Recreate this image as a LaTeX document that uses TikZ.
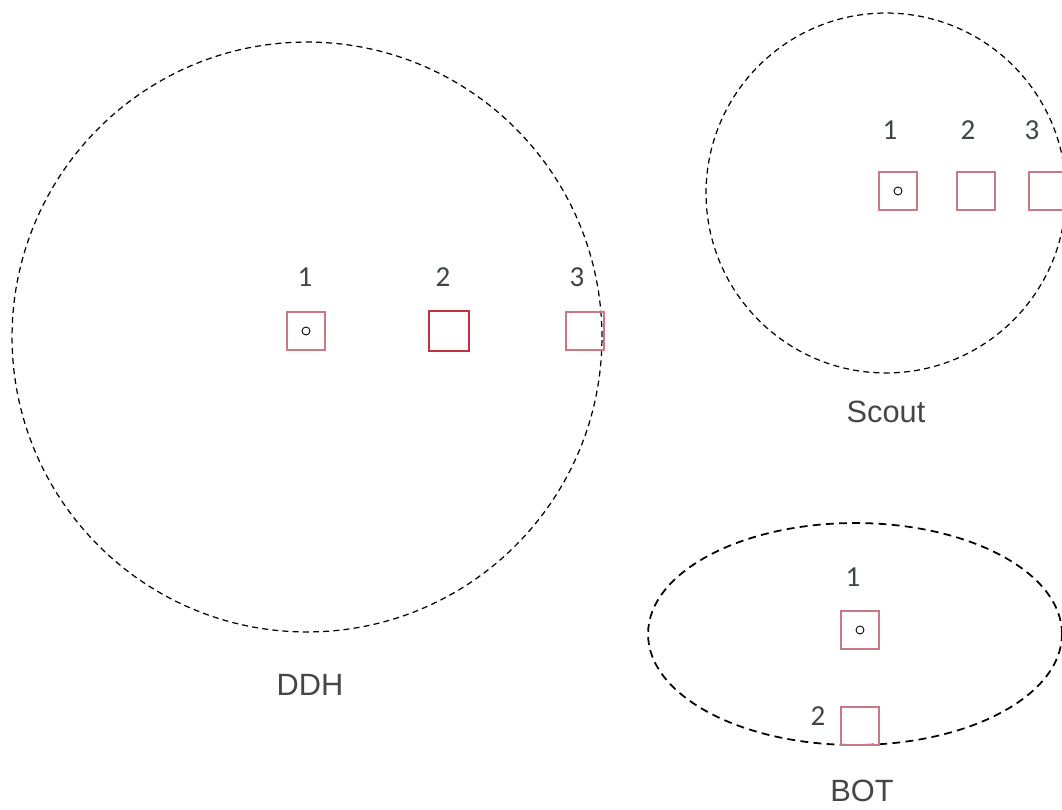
\documentclass[tikz,border=0pt]{standalone}
\usepackage{fontspec}
\setmainfont{Liberation Sans}
\newfontfamily\digitfont{Carlito}
\usetikzlibrary{positioning}

\definecolor{boxred}{RGB}{204,120,130}
\definecolor{darkred}{RGB}{190,50,65}
\definecolor{digitgray}{RGB}{60,70,70}
\definecolor{namegray}{RGB}{70,70,70}

\begin{document}
\begin{tikzpicture}[x=0.02cm, y=-0.02cm]
	\tikzstyle{zone} = [draw=black, line width=0.7pt, dash pattern=on 3.4pt off 2.4pt]
	\tikzstyle{slot} = [draw=boxred, line width=0.6pt, rectangle, minimum size=0.76cm, inner sep=0pt]
	\tikzstyle{slotnum} = [text=digitgray, font=\digitfont\fontsize{16.5}{19}\selectfont]
	\tikzstyle{grouplabel} = [text=namegray, font=\fontsize{17.5}{20}\selectfont]
	\tikzstyle{pip} = [draw=black, line width=0.5pt, circle, minimum size=0.16cm, inner sep=0pt]

	\useasboundingbox (0,0) rectangle (1062,809);

	% DDH
	\draw[zone] (307,337) circle [radius=5.9cm];
	\node[slot] 	at (306, 331)	(d1)	{};
	\node[slot, draw=darkred, line width=1.1pt, minimum size=0.8cm] 	at (449, 331)	(d2)	{};
	\node[slot] 	at (585, 331)	(d3)	{};
	\node[pip] 	at (d1.center)	(d1dot)	{};
	\node[slotnum] 	at (305, 277)	(d1n)	{1};
	\node[slotnum] 	at (443, 277)	(d2n)	{2};
	\node[slotnum] 	at (577, 277)	(d3n)	{3};
	\node[grouplabel] 	at (310, 685)	(ddh)	{DDH};

	% Scout
	\draw[zone] (886,193) circle [radius=3.6cm];
	\node[slot] 	at (898, 191)	(s1)	{};
	\node[slot] 	at (976, 191)	(s2)	{};
	\node[slot] 	at (1048, 191)	(s3)	{};
	\node[pip] 	at (s1.center)	(s1dot)	{};
	\node[slotnum] 	at (890, 130)	(s1n)	{1};
	\node[slotnum] 	at (968, 130)	(s2n)	{2};
	\node[slotnum] 	at (1032, 130)	(s3n)	{3};
	\node[grouplabel] 	at (886, 412)	(scout)	{Scout};

	% BOT
	\draw[zone, line width=1pt, dash pattern=on 4.5pt off 3pt] (855,634) ellipse [x radius=4.14cm, y radius=2.22cm];
	\node[slot] 	at (860, 630)	(b1)	{};
	\node[slot] 	at (860, 726)	(b2)	{};
	\node[pip] 	at (b1.center)	(b1dot)	{};
	\node[slotnum] 	at (853, 577)	(b1n)	{1};
	\node[slotnum] 	at (818, 716)	(b2n)	{2};
	\node[grouplabel] 	at (862, 791)	(bot)	{BOT};
\end{tikzpicture}
\end{document}
